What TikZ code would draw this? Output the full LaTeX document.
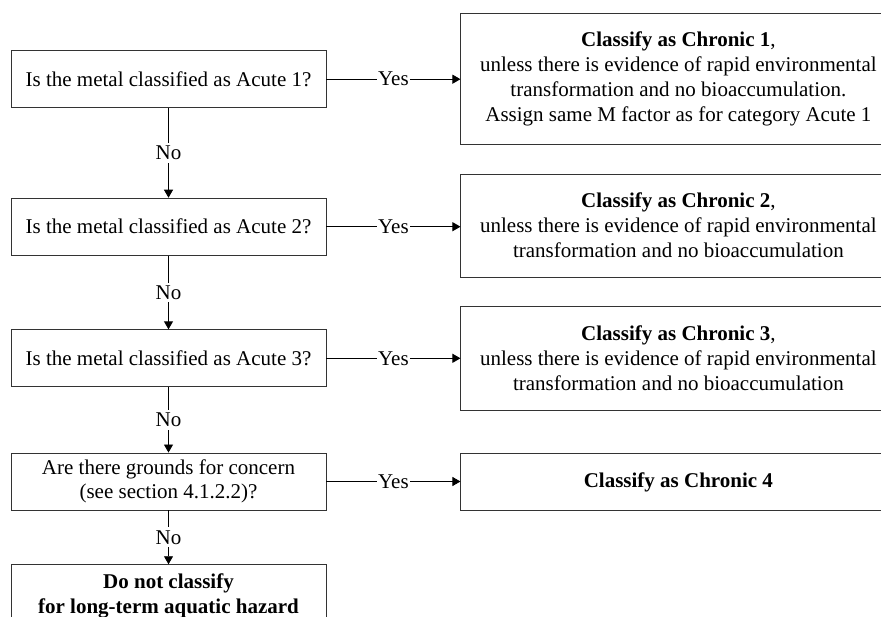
\documentclass[tikz,border=0pt]{standalone}
\usepackage{fontspec}
\setmainfont{Liberation Serif}
\usetikzlibrary{arrows.meta}
\begin{document}
\begin{tikzpicture}[x=1pt,y=-1pt,
  txt/.style={font=\fontsize{21}{25}\selectfont},
  box/.style={txt, draw=black!80, line width=0.9pt, align=center, inner sep=0pt},
  qbox/.style={box, minimum width=315pt, minimum height=57pt},
  rbox/.style={box, minimum width=435pt},
  lbl/.style={txt, fill=white, inner sep=1pt},
  nolbl/.style={lbl, inner sep=3pt},
  arr/.style={-{Triangle[length=8pt,width=9pt]}, line width=0.9pt, draw=black}]
\useasboundingbox (0,0) rectangle (881,617);
\clip (0,0) rectangle (881,617);
% left question boxes
\node[qbox] (q1) at (168.5,79.2) {Is the metal classified as Acute 1?};
\node[qbox] (q2) at (168.5,226.7) {Is the metal classified as Acute 2?};
\node[qbox] (q3) at (168.5,358.3) {Is the metal classified as Acute 3?};
\node[qbox, font=\fontsize{21}{23.5}\selectfont] (q4) at (168.5,481.5) {Are there grounds for concern\\(see section 4.1.2.2)?};
\node[qbox, minimum height=62pt] (q5) at (168.5,595.7) {\textbf{Do not classify}\\\textbf{for long-term aquatic hazard}};
% right outcome boxes
\node[rbox, minimum height=130.7pt] (r1) at (678.4,78.7) {\textbf{Classify as Chronic 1},\\unless there is evidence of rapid environmental\\transformation and no bioaccumulation.\\Assign same M factor as for category Acute 1};
\node[rbox, minimum height=103.3pt] (r2) at (678.4,225.7) {\textbf{Classify as Chronic 2},\\unless there is evidence of rapid environmental\\transformation and no bioaccumulation};
\node[rbox, minimum height=104pt] (r3) at (678.4,358.7) {\textbf{Classify as Chronic 3},\\unless there is evidence of rapid environmental\\transformation and no bioaccumulation};
\node[rbox, minimum height=57.4pt] (r4) at (678.4,482) {\textbf{Classify as Chronic 4}};
% yes connectors
\draw[arr] (q1.east) -- node[lbl] {Yes} (q1.east -| r1.west);
\draw[arr] (q2.east) -- node[lbl] {Yes} (q2.east -| r2.west);
\draw[arr] (q3.east) -- node[lbl] {Yes} (q3.east -| r3.west);
\draw[arr] (q4.east) -- node[lbl] {Yes} (q4.east -| r4.west);
% no connectors
\draw[arr] (q1.south) -- node[nolbl] {No} (q2.north);
\draw[arr] (q2.south) -- node[nolbl] {No} (q3.north);
\draw[arr] (q3.south) -- node[nolbl] {No} (q4.north);
\draw[arr] (q4.south) -- node[nolbl] {No} (q5.north);
\end{tikzpicture}
\end{document}
